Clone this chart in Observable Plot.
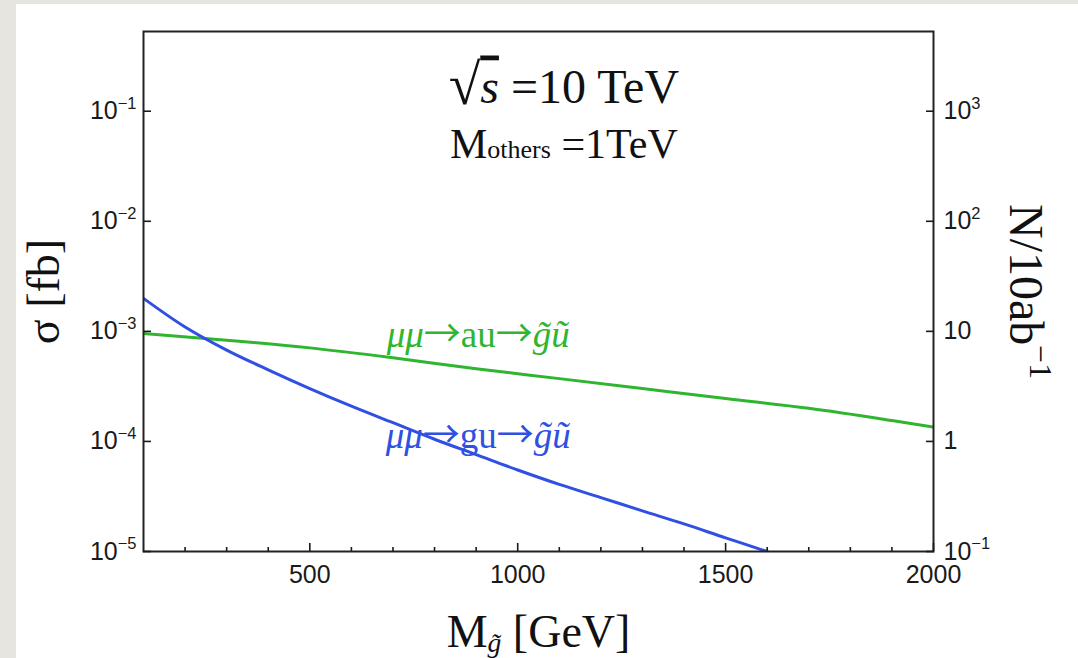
<!DOCTYPE html>
<html><head><meta charset="utf-8">
<script src="https://cdn.jsdelivr.net/npm/d3@7"></script>
<script src="https://cdn.jsdelivr.net/npm/@observablehq/plot@0.6"></script>
<style>
html,body{margin:0;padding:0;background:#e7e5e0;width:1078px;height:658px;overflow:hidden}
#card{position:absolute;left:16px;top:4px;width:1062px;height:654px;background:#fff}
</style></head><body><div id="card"></div>
<script>
// ---- data ----
const massBlue  = [100,200,300,400,500,600,700,800,900,1000,1100,1200,1300,1400,1500,1600];
const sigmaBlue = [1.995e-3,1.096e-3,6.76e-4,4.47e-4,3.02e-4,2.09e-4,1.479e-4,1.047e-4,7.59e-5,5.50e-5,4.07e-5,3.09e-5,2.34e-5,1.78e-5,1.33e-5,1.0e-5];
const massGreen  = [100,300,500,700,900,1100,1300,1500,1700,1900,2000];
const sigmaGreen = [9.55e-4,8.32e-4,7.08e-4,5.75e-4,4.57e-4,3.72e-4,3.02e-4,2.45e-4,2.0e-4,1.55e-4,1.35e-4];

const yTicks = [1e-5,1e-4,1e-3,1e-2,1e-1];
const yTickLabelsLeft  = ["10^−5","10^−4","10^−3","10^−2","10^−1"];
const yTickLabelsRight = ["10^−1","1","10","10^2","10^3"];
const xMajorTicks = [500,1000,1500,2000];
const xMinorTicks = [200,300,400,600,700,800,900,1100,1200,1300,1400,1600,1700,1800,1900];

const lineLabels = ["μμ→au→g̃ũ","μμ→gu→g̃ũ"];
const lineLabelMass = [905,905];
const lineLabelSigma = [7.16e-4,8.8e-5];
const titleLines = ["√s =10 TeV","Mothers =1TeV"];
const titleMass = 1111;
const xLabel = "Mg̃ [GeV]";
const yLabel = "σ [fb]";
const y2Label = "N/10ab^−1";

const BLUE = "#2f50e2", GREEN = "#2fb52f";
const SERIF = "Liberation Serif, Times New Roman, serif";

const blue = massBlue.map((m,i)=>({m, s:sigmaBlue[i]}));
const green = massGreen.map((m,i)=>({m, s:sigmaGreen[i]}));
const lbl = lineLabels.map((t,i)=>({t, m:lineLabelMass[i], s:lineLabelSigma[i], c:[GREEN,BLUE][i]}));

const plot = Plot.plot({
  width: 1062, height: 654,
  marginLeft: 127, marginRight: 145, marginTop: 27, marginBottom: 107,
  x: {domain: [100, 2000]},
  y: {type: "log", domain: [1e-5, 0.53]},
  style: {fontFamily: "Liberation Sans, Arial, sans-serif", fontSize: "25px", color: "#1a1a1a", background: "transparent"},
  marks: [
    Plot.line(green, {x:"m", y:"s", stroke: GREEN, strokeWidth: 3, curve: "catmull-rom", clip: true}),
    Plot.line(blue, {x:"m", y:"s", stroke: BLUE, strokeWidth: 3, curve: "catmull-rom", clip: true}),
    Plot.frame({stroke: "#222", strokeWidth: 2}),
    Plot.axisX(xMajorTicks, {anchor:"bottom", tickSize:-8, fill:"none", label:null, strokeWidth:1.6}),
    Plot.axisX(xMinorTicks, {anchor:"bottom", tickSize:-4, fill:"none", label:null, strokeWidth:1.6}),
    Plot.axisX(xMajorTicks, {anchor:"bottom", tickSize:0, tickPadding:14, label:null, fontSize:25, tickFormat: d=>String(d)}),
    Plot.axisY(yTicks, {anchor:"left", tickSize:-8, fill:"none", label:null, strokeWidth:1.6}),
    Plot.axisY(yTicks, {anchor:"right", tickSize:-8, fill:"none", label:null, strokeWidth:1.6}),
    Plot.axisY(yTicks, {anchor:"left", tickSize:0, tickPadding:7, label:null, fontSize:25, tickFormat: d=>yTickLabelsLeft[yTicks.indexOf(d)]}),
    Plot.axisY(yTicks, {anchor:"right", tickSize:0, tickPadding:10, label:null, fontSize:25, tickFormat: d=>yTickLabelsRight[yTicks.indexOf(d)]}),
    Plot.text(lbl, {x:"m", y:"s", text:"t", fill:"c", textAnchor:"middle", lineAnchor:"bottom", fontFamily:SERIF, fontSize:37}),
    Plot.text([titleLines[0]], {x: ()=>titleMass, frameAnchor:"top", dy:71, text:d=>d, textAnchor:"middle", lineAnchor:"bottom", fontFamily:SERIF, fontSize:48, fill:"#111"}),
    Plot.text([titleLines[1]], {x: ()=>titleMass, frameAnchor:"top", dy:126, text:d=>d, textAnchor:"middle", lineAnchor:"bottom", fontFamily:SERIF, fontSize:42, fill:"#111"}),
    Plot.text([xLabel], {frameAnchor:"bottom", dy:95, text:d=>d, textAnchor:"middle", lineAnchor:"bottom", fontFamily:SERIF, fontSize:46, fill:"#111"}),
    Plot.text([yLabel], {frameAnchor:"left", dx:-99, rotate:-90, text:d=>d, textAnchor:"middle", lineAnchor:"middle", fontFamily:SERIF, fontSize:46, fill:"#111"}),
    Plot.text([y2Label], {frameAnchor:"right", dx:92, rotate:90, text:d=>d, textAnchor:"middle", lineAnchor:"middle", fontFamily:SERIF, fontSize:48, fill:"#111"})
  ]
});

// rich text: mixed italics, sub/superscripts
const ARROW = {family:"Noto Sans CJK SC", size:1.0, dy:0.0};
const rich = {
  "√s =10 TeV": [["√",{size:1.2, dy:0.04}],["s",{italic:true, overline:true}],[" =10 TeV"]],
  "Mothers =1TeV": [["M"],["others",{size:0.62}],[" =1TeV"]],
  "μμ→au→g̃ũ": [["μμ",{italic:true}],["→",ARROW],["au"],["→",ARROW],["g̃ũ",{italic:true}]],
  "μμ→gu→g̃ũ": [["μμ",{italic:true}],["→",ARROW],["gu"],["→",ARROW],["g̃ũ",{italic:true}]],
  "Mg̃ [GeV]": [["M"],["g̃",{italic:true,size:0.6,dy:0.12}],[" [GeV]",{dy:0}]]
};
const NS = "http://www.w3.org/2000/svg";
document.getElementById("card").appendChild(plot);
plot.querySelectorAll("text").forEach(t => {
  const s = t.textContent;
  let segs = rich[s];
  if (!segs && s.includes("^")) { const [a,b] = s.split("^"); segs = [[a],[b,{size:0.66,dy:-0.42}]]; }
  if (!segs) return;
  const fs = parseFloat(getComputedStyle(t).fontSize);
  while (t.firstChild) t.removeChild(t.firstChild);
  let shift = 0;
  for (const [str, st={}] of segs) {
    const ts = document.createElementNS(NS, "tspan");
    ts.textContent = str;
    if (st.italic) ts.setAttribute("font-style","italic");
    if (st.size) ts.setAttribute("font-size", (st.size*fs)+"px");
    if (st.family) ts.setAttribute("font-family", st.family);
    if (st.overline) ts.setAttribute("style","text-decoration:overline");
    const target = (st.dy||0)*fs;
    if (target !== shift) { ts.setAttribute("dy", (target-shift)+"px"); shift = target; }
    t.appendChild(ts);
  }
});
</script></body></html>
